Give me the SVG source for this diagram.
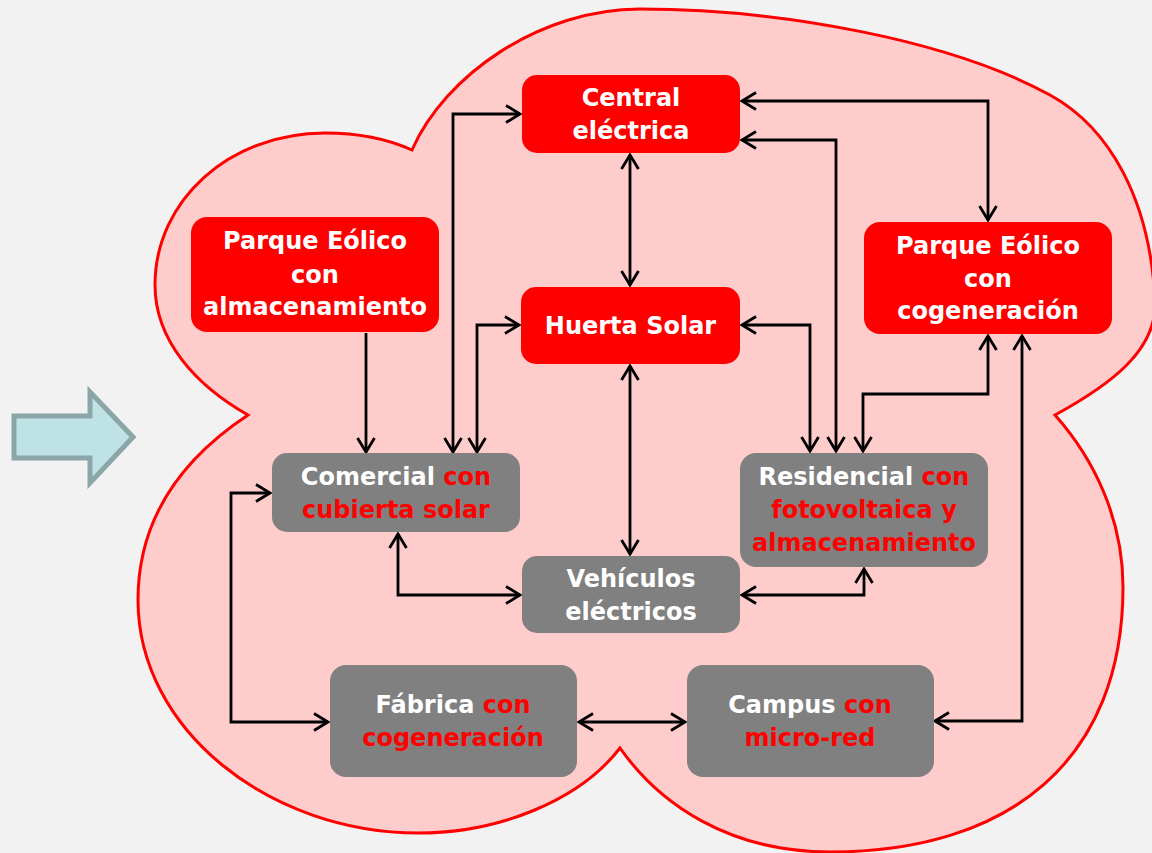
<svg xmlns="http://www.w3.org/2000/svg" width="1152" height="853" viewBox="0 0 1152 853">
<defs>
<style>
.red{fill:#ff0000}
.gray{fill:#808080}
.t{font-family:"DejaVu Sans","Liberation Sans",sans-serif;font-weight:bold;font-size:24px;text-anchor:middle}
.w{fill:#ffffff}
.r{fill:#ff0000}
.c{fill:none;stroke:#000;stroke-width:2.8;marker-end:url(#ah);marker-start:url(#ah)}
.c1{fill:none;stroke:#000;stroke-width:2.8;marker-end:url(#ah)}
</style>
<marker id="ah" markerUnits="userSpaceOnUse" markerWidth="20" markerHeight="20" refX="0" refY="0" viewBox="-16 -10 18 20" orient="auto-start-reverse" overflow="visible">
<path d="M-14,-8.5 L0,0 L-14,8.5" fill="none" stroke="#000" stroke-width="2.8"/>
</marker>
</defs>
<rect width="1152" height="853" fill="#f2f2f2"/>
<g id="cloud">
<path d="M412,150 C445,75 540,9 640,9 C780,9 950,40 1050,95 C1110,128 1150,200 1155,300 C1158,350 1110,385 1055,415 C1095,460 1123,520 1123,587 C1123,760 1010,852 830,852 C730,852 660,805 620,748 C580,800 500,833 418,833 C270,833 138,730 138,600 C138,520 180,460 248,415 C195,385 155,340 155,285 C155,200 230,133 325,133 C360,133 390,140 412,150 Z" fill="#ffcccc" stroke="#ff0000" stroke-width="3" stroke-linejoin="miter"/>
</g>
<g id="input-arrow">
<polygon points="14,416 90,416 90,392 133,437 90,483 90,458 14,458" fill="#bfe3e5" stroke="#8aa6a8" stroke-width="5"/>
</g>
<g id="connectors">
<path class="c" d="M630,155 V285"/>
<path class="c" d="M630,366 V554"/>
<path class="c" d="M453,452 V114 H520"/>
<path class="c" d="M477,452 V325 H519"/>
<path class="c1" d="M366,333 V452"/>
<path class="c" d="M742,101 H988 V220"/>
<path class="c" d="M742,140 H836 V451"/>
<path class="c" d="M742,325 H810 V451"/>
<path class="c" d="M863,451 V394 H988 V336"/>
<path class="c" d="M1022,336 V721 H935"/>
<path class="c" d="M398,534 V595 H520"/>
<path class="c" d="M864,569 V595 H742"/>
<path class="c" d="M270,493 H231 V722 H328"/>
<path class="c" d="M579,722 H685"/>
</g>
<g id="central">
<rect class="red" x="522" y="75" width="218" height="78" rx="15"/>
<text class="t w" x="631" y="106">Central</text>
<text class="t w" x="631" y="139">eléctrica</text>
</g>
<g id="parque-almacenamiento">
<rect class="red" x="191" y="217" width="248" height="115" rx="16"/>
<text class="t w" x="315" y="249">Parque Eólico</text>
<text class="t w" x="315" y="283">con</text>
<text class="t w" x="315" y="315">almacenamiento</text>
</g>
<g id="huerta">
<rect class="red" x="521" y="287" width="219" height="77" rx="15"/>
<text class="t w" x="630.5" y="334">Huerta Solar</text>
</g>
<g id="parque-cogeneracion">
<rect class="red" x="864" y="222" width="248" height="112" rx="16"/>
<text class="t w" x="988" y="254">Parque Eólico</text>
<text class="t w" x="988" y="287">con</text>
<text class="t w" x="988" y="319">cogeneración</text>
</g>
<g id="comercial">
<rect class="gray" x="272" y="453" width="248" height="79" rx="15"/>
<text class="t" x="396" y="485"><tspan class="w">Comercial </tspan><tspan class="r">con</tspan></text>
<text class="t r" x="396" y="518">cubierta solar</text>
</g>
<g id="residencial">
<rect class="gray" x="740" y="453" width="248" height="114" rx="16"/>
<text class="t" x="864" y="485"><tspan class="w">Residencial </tspan><tspan class="r">con</tspan></text>
<text class="t r" x="864" y="518">fotovoltaica y</text>
<text class="t r" x="864" y="551">almacenamiento</text>
</g>
<g id="vehiculos">
<rect class="gray" x="522" y="556" width="218" height="77" rx="15"/>
<text class="t w" x="631" y="587">Vehículos</text>
<text class="t w" x="631" y="620">eléctricos</text>
</g>
<g id="fabrica">
<rect class="gray" x="330" y="665" width="247" height="112" rx="16"/>
<text class="t" x="453" y="713"><tspan class="w">Fábrica </tspan><tspan class="r">con</tspan></text>
<text class="t r" x="453" y="746">cogeneración</text>
</g>
<g id="campus">
<rect class="gray" x="687" y="665" width="247" height="112" rx="16"/>
<text class="t" x="810" y="713"><tspan class="w">Campus </tspan><tspan class="r">con</tspan></text>
<text class="t r" x="810" y="746">micro-red</text>
</g>
</svg>
